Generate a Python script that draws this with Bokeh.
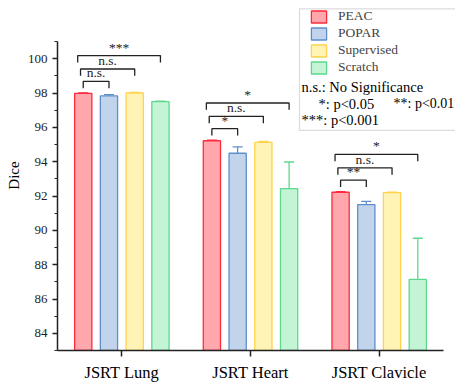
from bokeh.plotting import figure
from bokeh.models import (Range1d, FixedTicker, SingleIntervalTicker, Whisker,
                          ColumnDataSource, Legend, LegendItem, Label,
                          BoxAnnotation, TeeHead)
from bokeh.embed import file_html
from bokeh.resources import INLINE
from bokeh.core.properties import value

# ---------------- data ----------------
CATEGORIES = ["JSRT Lung", "JSRT Heart", "JSRT Clavicle"]
METHODS = ["PEAC", "POPAR", "Supervised", "Scratch"]
PEAC = [97.98, 95.22, 92.22]
PEAC_ERR = [0.03, 0.04, 0.03]
POPAR = [97.83, 94.49, 91.50]
POPAR_ERR = [0.08, 0.37, 0.19]
SUPERVISED = [98.00, 95.12, 92.20]
SUPERVISED_ERR = [0.03, 0.06, 0.03]
SCRATCH = [97.50, 92.43, 87.14]
SCRATCH_ERR = [0.03, 1.55, 2.40]
# significance of PEAC vs POPAR / Supervised / Scratch, per category
SIG_LABELS = [["n.s.", "n.s.", "***"],
              ["*", "n.s.", "*"],
              ["**", "n.s.", "*"]]
Y_TICK_INTERVAL = 2
Y_LABEL = "Dice"
LEGEND_NOTES = ["n.s.: No Significance", "*: p<0.05", "**: p<0.01", "***: p<0.001"]

# ---------------- style ----------------
FONT = "Liberation Serif"
FILLS = ["#FFA7AD", "#C2D4EB", "#FFF4B6", "#C4F4D6"]
LINES = ["#FF2B3B", "#5E8FCB", "#FFD34D", "#5ED88C"]
BAR_W = 0.134
OFFSETS = [-0.3, -0.1, 0.1, 0.3]
Y0 = 83.0
Y_AXIS_TOP = 101.0

W, H = 455, 384
BL, BB = 57, 31                      # left / bottom borders
FRAME_W, FRAME_H = W - BL, H - BB
PX_X = 128.67                        # pixels per category unit
PX_Y = 17.3125                       # pixels per Dice unit

p = figure(width=W, height=H, output_backend="svg", toolbar_location=None,
           x_range=Range1d(0, FRAME_W / PX_X), y_range=Range1d(Y0, Y0 + FRAME_H / PX_Y),
           min_border_left=BL, min_border_right=0, min_border_top=0,
           min_border_bottom=BB)
p.xgrid.visible = False
p.ygrid.visible = False
p.outline_line_color = None
p.background_fill_color = "white"


def fx(px):   # page x pixel -> data x
    return (px - BL) / PX_X


def fy(py):   # page y pixel -> data y
    return Y0 + (FRAME_H - py) / PX_Y


values = [PEAC, POPAR, SUPERVISED, SCRATCH]
errors = [PEAC_ERR, POPAR_ERR, SUPERVISED_ERR, SCRATCH_ERR]
centers = [i + 0.5 for i in range(len(CATEGORIES))]

renderers = []
for j, (vals, errs) in enumerate(zip(values, errors)):
    src = ColumnDataSource(dict(
        x=[c + OFFSETS[j] for c in centers],
        top=vals,
        upper=[v + e for v, e in zip(vals, errs)],
        lower=[v - e for v, e in zip(vals, errs)],
    ))
    r = p.vbar(x="x", top="top", bottom=Y0, width=BAR_W, source=src,
               fill_color=FILLS[j], line_color=LINES[j], line_width=1.3)
    renderers.append(r)
    w = Whisker(source=src, base="x", upper="upper", lower="lower",
                line_color=LINES[j], line_width=1.3,
                upper_head=TeeHead(size=10, line_color=LINES[j], line_width=1.3),
                lower_head=TeeHead(size=10, line_color=LINES[j], line_width=1.3))
    p.add_layout(w)

# ---------------- significance brackets ----------------
LEVELS = [0.70, 1.42, 2.20]
LEFT_SHIFT = [0.0, -0.021, -0.043]
TEXT_GAP = 0.06
xs, ys, tx, ty, tt = [], [], [], [], []
for i, c in enumerate(centers):
    base = values[0][i]
    lx0 = c + OFFSETS[0]
    for k in range(3):
        j = k + 1
        top = base + LEVELS[k]
        lx = lx0 + LEFT_SHIFT[k]
        rx = c + OFFSETS[j]
        lb = max(base + errors[0][i] + 0.22, top - 0.4)
        rb = max(values[j][i] + errors[j][i] + 0.25, top - 0.4)
        xs.append([lx, lx, rx, rx])
        ys.append([lb, top, top, rb])
        tx.append((lx + rx) / 2)
        ty.append(top + TEXT_GAP)
        tt.append(SIG_LABELS[i][k])
p.multi_line(xs=xs, ys=ys, line_color="#222222", line_width=1.3)
p.text(x=tx, y=ty, text=tt, text_align="center", text_baseline="bottom",
       text_font=value(FONT), text_font_size="13.5px", text_color="#222222")

# ---------------- axes ----------------
xa = p.xaxis[0]
xa.bounds = (0, len(CATEGORIES))
xa.ticker = FixedTicker(ticks=centers, minor_ticks=[])
xa.major_label_overrides = {c: lab for c, lab in zip(centers, CATEGORIES)}
xa.major_tick_out = 6
xa.major_tick_in = 0
xa.major_label_standoff = 6
xa.major_label_text_font = FONT
xa.major_label_text_font_size = "16.5px"
xa.major_label_text_color = "black"
xa.axis_line_width = 1.5
xa.axis_line_color = "#222222"
xa.major_tick_line_width = 1.5
xa.major_tick_line_color = "#222222"

ya = p.yaxis[0]
ya.bounds = (Y0, Y_AXIS_TOP)
ya.ticker = SingleIntervalTicker(interval=Y_TICK_INTERVAL, num_minor_ticks=2)
ya.major_tick_out = 5
ya.major_tick_in = 0
ya.minor_tick_out = 3
ya.minor_tick_in = 0
ya.major_label_standoff = 5
ya.major_label_text_font = FONT
ya.major_label_text_font_size = "13px"
ya.major_label_text_color = "#222222"
ya.axis_label = Y_LABEL
ya.axis_label_text_font = FONT
ya.axis_label_text_font_size = "15px"
ya.axis_label_text_font_style = "normal"
ya.axis_label_text_color = "black"
ya.axis_label_standoff = 3
ya.axis_line_width = 1.5
ya.axis_line_color = "#222222"
ya.major_tick_line_color = "#222222"
ya.minor_tick_line_color = "#222222"
ya.major_tick_line_width = 1.3

# ---------------- legend ----------------
box = BoxAnnotation(left=fx(299), right=fx(480), top=fy(8.5), bottom=fy(131),
                    fill_alpha=0, line_color="#8a8a8a", line_width=1.2)
p.add_layout(box)

legend = Legend(items=[LegendItem(label=m, renderers=[r]) for m, r in zip(METHODS, renderers)],
                location=(309 - BL, FRAME_H - 78), padding=0, margin=0, spacing=1,
                glyph_width=19, glyph_height=15, label_height=15, label_standoff=10,
                label_text_font=FONT, label_text_font_size="13.5px",
                border_line_alpha=0, background_fill_alpha=0)
p.add_layout(legend)

note_pos = [(301, 87.3, "14.5px"), (318, 104, "14.5px"), (393, 104, "14px"), (301, 120.7, "14.5px")]
for note, (nx, ny, fs) in zip(LEGEND_NOTES, note_pos):
    p.add_layout(Label(x=fx(nx), y=fy(ny), text=note, text_font=FONT,
                       text_font_size=fs, text_baseline="middle",
                       text_color="black"))

open("out.html", "w").write(file_html(p, INLINE))
